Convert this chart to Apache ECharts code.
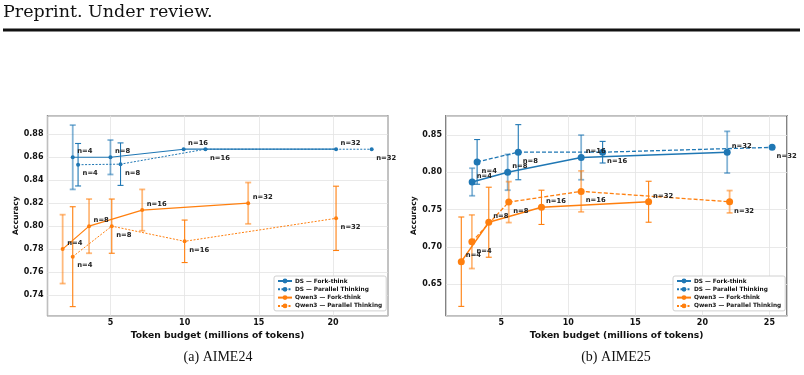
<!DOCTYPE html>
<html>
<head>
<meta charset="utf-8">
<script src="https://cdn.jsdelivr.net/npm/echarts@6/dist/echarts.min.js"></script>
<style>
  html, body { margin: 0; padding: 0; background: #fff; }
  #chart { width: 804px; height: 375px; }
</style>
</head>
<body>
<div id="chart"></div>
<script>
// labels for the points (samples per problem)
const nLabels = ['n=4', 'n=8', 'n=16', 'n=32'];

// AIME24 (token budget in millions, accuracy, error)
const ds24ForkX = [2.46, 5.0, 9.93, 20.2];
const ds24ForkY = [0.860, 0.860, 0.867, 0.867];
const ds24ForkErr = [0.028, 0.015, 0, 0];
const ds24ParX = [2.82, 5.68, 11.4, 22.6];
const ds24ParY = [0.8535, 0.854, 0.867, 0.867];
const ds24ParErr = [0.0185, 0.0185, 0, 0];
const qw24ForkX = [1.78, 3.56, 7.14, 14.28];
const qw24ForkY = [0.780, 0.800, 0.814, 0.820];
const qw24ForkErr = [0.030, 0.0236, 0.018, 0.018];
const qw24ParX = [2.46, 5.09, 10.0, 20.2];
const qw24ParY = [0.7734, 0.800, 0.7868, 0.8068];
const qw24ParErr = [0.0435, 0.0236, 0.0185, 0.028];

// AIME25
const ds25ForkX = [2.83, 5.48, 10.96, 21.85];
const ds25ForkY = [0.787, 0.800, 0.820, 0.827];
const ds25ForkErr = [0.0185, 0.024, 0.030, 0.028];
const ds25ParX = [3.2, 6.27, 12.56, 25.2];
const ds25ParY = [0.814, 0.827, 0.827, 0.8335];
const ds25ParErr = [0.030, 0.037, 0.0145, 0];
const qw25ForkX = [2.02, 4.07, 8.0, 15.99];
const qw25ForkY = [0.680, 0.733, 0.753, 0.7605];
const qw25ForkErr = [0.060, 0.047, 0.023, 0.0275];
const qw25ParX = [2.81, 5.56, 10.96, 22.03];
const qw25ParY = [0.7068, 0.760, 0.7744, 0.7605];
const qw25ParErr = [0.036, 0.0275, 0.0275, 0.015];

const BLUE = '#1f77b4';
const ORANGE = '#ff7f0e';
const names = ['DS — Fork-think', 'DS — Parallel Thinking', 'Qwen3 — Fork-think', 'Qwen3 — Parallel Thinking'];

function zip(xs, ys) { return xs.map((x, i) => [x, ys[i], nLabels[i]]); }
function zip3(xs, ys, es) { return xs.map((x, i) => [x, ys[i], es[i]]); }

function lineSeries(name, idx, xs, ys, color, dashed, above, sym) {
  const w = idx ? 1.5 : 1.2;
  return {
    name: name, type: 'line', xAxisIndex: idx, yAxisIndex: idx,
    data: zip(xs, ys),
    symbol: 'circle', symbolSize: sym,
    itemStyle: { color: color },
    lineStyle: { color: color, width: dashed ? w - 0.2 : w, type: dashed ? (idx ? [4, 2] : [2, 1.5]) : 'solid' },
    label: {
      show: true, position: 'right', distance: 4.5 - sym / 2,
      offset: [0, above ? -6 : 9],
      formatter: p => p.data[2],
      fontFamily: 'DejaVu Sans', fontWeight: 'bold', fontSize: 6.8, color: '#222'
    },
    animation: false, z: 3
  };
}

function errSeries(idx, xs, ys, es, color, light) {
  return {
    name: 'err', type: 'custom', xAxisIndex: idx, yAxisIndex: idx,
    data: zip3(xs, ys, es),
    renderItem: function (params, api) {
      const e = api.value(2);
      if (!e) return null;
      const x = api.value(0), y = api.value(1);
      const t = api.coord([x, y + e]), b = api.coord([x, y - e]);
      const st = { stroke: color, lineWidth: light ? 1.8 : 1.1, opacity: light ? 0.55 : 1 };
      const c = 3;
      return {
        type: 'group', children: [
          { type: 'line', shape: { x1: t[0], y1: t[1], x2: b[0], y2: b[1] }, style: st },
          { type: 'line', shape: { x1: t[0] - c, y1: t[1], x2: t[0] + c, y2: t[1] }, style: st },
          { type: 'line', shape: { x1: b[0] - c, y1: b[1], x2: b[0] + c, y2: b[1] }, style: st }
        ]
      };
    },
    animation: false, silent: true, z: 2
  };
}

const tickFont = { fontFamily: 'DejaVu Sans', fontWeight: 'bold', fontSize: 8, color: '#111' };
const splitStyle = { show: true, lineStyle: { color: '#e3e3e3', width: 0.8 } };

function xAxis(idx, min, max) {
  return {
    type: 'value', gridIndex: idx, min: min, max: max,
    minInterval: 5, maxInterval: 5,
    name: 'Token budget (millions of tokens)', nameLocation: 'middle', nameGap: 10,
    nameTextStyle: { fontFamily: 'DejaVu Sans', fontWeight: 'bold', fontSize: 9.2, color: '#111' },
    axisLine: { show: false }, axisTick: { show: false },
    axisLabel: Object.assign({ margin: 3, showMinLabel: false, showMaxLabel: false }, tickFont),
    splitLine: splitStyle
  };
}
function yAxis(idx, min, max, step) {
  return {
    type: 'value', gridIndex: idx, min: min, max: max,
    minInterval: step, maxInterval: step,
    name: 'Accuracy', nameLocation: 'middle', nameGap: 21.5,
    nameTextStyle: { fontFamily: 'DejaVu Sans', fontWeight: 'bold', fontSize: 7.6, color: '#111' },
    axisLine: { show: false }, axisTick: { show: false },
    axisLabel: Object.assign({ margin: 4, showMinLabel: false, showMaxLabel: false,
      formatter: v => v.toFixed(2) }, tickFont),
    splitLine: splitStyle
  };
}

function legend(left) {
  return {
    orient: 'vertical', left: left, top: 276,
    data: names, itemWidth: 14, itemHeight: 6, itemGap: 2.3,
    padding: [2, 4, 2, 3],
    backgroundColor: '#fff', borderColor: '#d0d0d0', borderWidth: 1, borderRadius: 2,
    textStyle: { fontFamily: 'DejaVu Sans', fontWeight: 'bold', fontSize: 5.8, color: '#111', padding: [0, 0, 0, -2] }
  };
}

const myChart = echarts.init(document.getElementById('chart'), null, { renderer: 'canvas' });

const option = {
  backgroundColor: '#fff',
  animation: false,
  grid: [
    { left: 47.5, top: 115.7, width: 340.2, height: 200, show: true, borderColor: '#333', borderWidth: 1.2, backgroundColor: 'transparent' },
    { left: 446, top: 115.7, width: 341, height: 200, show: true, borderColor: '#333', borderWidth: 1.2, backgroundColor: 'transparent' }
  ],
  xAxis: [xAxis(0, 0.76, 23.68), xAxis(1, 0.88, 26.31)],
  yAxis: [yAxis(0, 0.722, 0.8962, 0.02), yAxis(1, 0.6075, 0.876, 0.05)],
  legend: [legend(274), legend(673)],
  series: [
    errSeries(0, ds24ForkX, ds24ForkY, ds24ForkErr, BLUE, true),
    errSeries(0, ds24ParX, ds24ParY, ds24ParErr, BLUE, false),
    errSeries(0, qw24ForkX, qw24ForkY, qw24ForkErr, ORANGE, true),
    errSeries(0, qw24ParX, qw24ParY, qw24ParErr, ORANGE, false),
    lineSeries(names[0], 0, ds24ForkX, ds24ForkY, BLUE, false, true, 4),
    lineSeries(names[1], 0, ds24ParX, ds24ParY, BLUE, true, false, 4),
    lineSeries(names[2], 0, qw24ForkX, qw24ForkY, ORANGE, false, true, 4),
    lineSeries(names[3], 0, qw24ParX, qw24ParY, ORANGE, true, false, 4),

    errSeries(1, ds25ForkX, ds25ForkY, ds25ForkErr, BLUE, true),
    errSeries(1, ds25ParX, ds25ParY, ds25ParErr, BLUE, false),
    errSeries(1, qw25ForkX, qw25ForkY, qw25ForkErr, ORANGE, false),
    errSeries(1, qw25ParX, qw25ParY, qw25ParErr, ORANGE, true),
    lineSeries(names[0], 1, ds25ForkX, ds25ForkY, BLUE, false, true, 7),
    lineSeries(names[1], 1, ds25ParX, ds25ParY, BLUE, true, false, 7),
    lineSeries(names[2], 1, qw25ForkX, qw25ForkY, ORANGE, false, true, 7),
    lineSeries(names[3], 1, qw25ParX, qw25ParY, ORANGE, true, false, 7)
  ],
  graphic: [
    { type: 'text', left: 3, top: 3, style: { text: 'Preprint. Under review.', font: '17.5px "DejaVu Serif"', fill: '#111' } },
    { type: 'rect', left: 3, top: 28.4, shape: { width: 797, height: 3 }, style: { fill: '#111' } },
    { type: 'text', x: 218, y: 357, style: { text: '(a) AIME24', font: '14px "Liberation Serif"', fill: '#111', align: 'center', verticalAlign: 'middle' } },
    { type: 'text', x: 616, y: 357, style: { text: '(b) AIME25', font: '14px "Liberation Serif"', fill: '#111', align: 'center', verticalAlign: 'middle' } }
  ]
};

myChart.setOption(option);

window.addEventListener('resize', () => {
  myChart.resize();
});
</script>
</body>
</html>
